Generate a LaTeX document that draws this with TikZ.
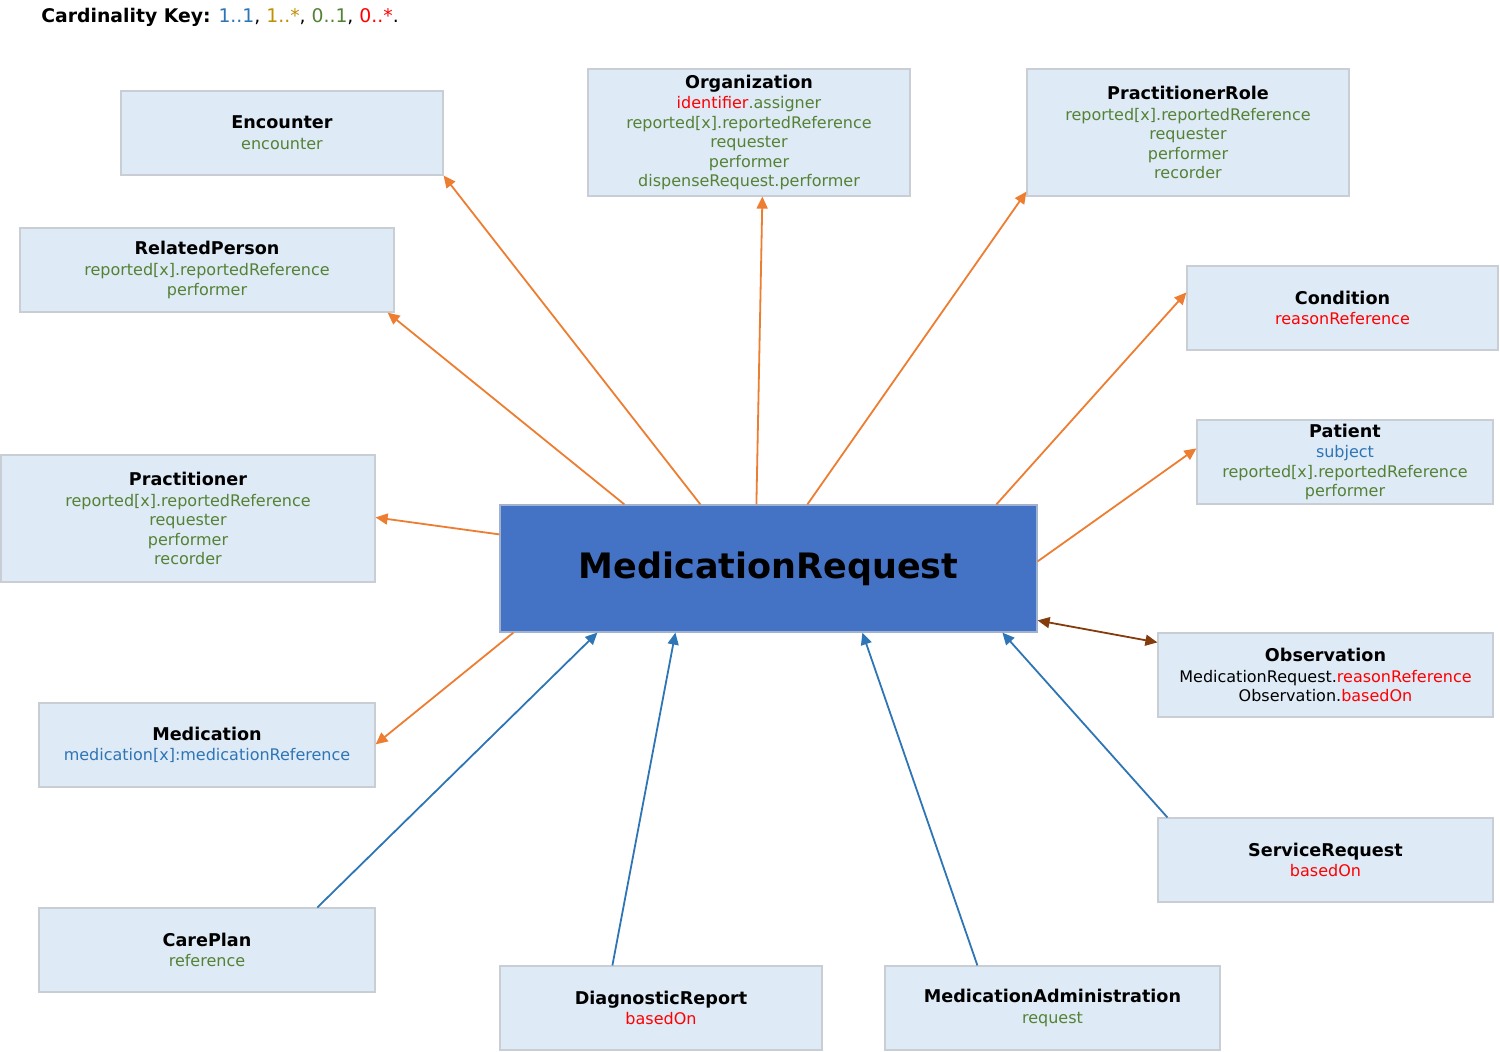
\documentclass[tikz,border=0pt]{standalone}
\usepackage{fontspec}
\setmainfont{DejaVu Sans}
\usetikzlibrary{arrows.meta,calc}
\definecolor{cblue}{HTML}{2E75B6}
\definecolor{cgold}{HTML}{BF9000}
\definecolor{cgreen}{HTML}{548235}
\definecolor{cred}{HTML}{FF0000}
\definecolor{boxfill}{HTML}{DEEAF6}
\definecolor{boxline}{HTML}{C9CED4}
\definecolor{mainfill}{HTML}{4472C4}
\definecolor{corange}{HTML}{ED7D31}
\definecolor{cbrown}{HTML}{843C0C}
\newcommand{\ttl}[1]{{\fontsize{8.8}{10}\selectfont\bfseries #1}\\[0.6pt]}
\tikzset{
  x=0.5pt, y=-0.5pt,
  box/.style={draw=boxline, line width=0.6pt, fill=boxfill, inner sep=0pt, align=center,
    font=\fontsize{8}{9.75}\selectfont, text=cgreen},
  mainbox/.style={draw=boxline!70!mainfill, line width=0.6pt, fill=mainfill, inner sep=0pt,
    font=\fontsize{17.5}{20}\selectfont\bfseries, text=black},
  tip/.style={-{Triangle[length=6pt,width=5.5pt]}},
  oarr/.style={tip, draw=corange, fill=corange, line width=0.9pt},
  barr/.style={tip, draw=cblue, fill=cblue, line width=0.9pt},
  brarr/.style={{Triangle[length=6pt,width=5.5pt]}-{Triangle[length=6pt,width=5.5pt]}, draw=cbrown, fill=cbrown, line width=0.9pt},
}
\begin{document}
\begin{tikzpicture}
\useasboundingbox (0,0) rectangle (1500,1051);

\node[anchor=base west, inner sep=0pt, font=\fontsize{9.4}{11}\selectfont] (key) at (41,22)
  {\textbf{Cardinality Key:} \textcolor{cblue}{1..1}, \textcolor{cgold}{1..*}, \textcolor{cgreen}{0..1}, \textcolor{cred}{0..*}.};

\node[mainbox, minimum width=268.5pt, minimum height=63.5pt] (mr) at (768.5,568.5) {MedicationRequest};

\node[box, minimum width=161pt, minimum height=42pt] (enc) at (282,133)
  {\ttl{\textcolor{black}{Encounter}}encounter};
\node[box, minimum width=161pt, minimum height=63.5pt] (org) at (749,132.5)
  {\ttl{\textcolor{black}{Organization}}\textcolor{cred}{identifier}.assigner\\reported[x].reportedReference\\requester\\performer\\dispenseRequest.performer};
\node[box, minimum width=161pt, minimum height=63.5pt] (prole) at (1188,132.5)
  {\ttl{\textcolor{black}{PractitionerRole}}reported[x].reportedReference\\requester\\performer\\recorder};
\node[box, minimum width=187pt, minimum height=42pt] (rp) at (207,270)
  {\ttl{\textcolor{black}{RelatedPerson}}reported[x].reportedReference\\performer};
\node[box, minimum width=155.5pt, minimum height=42pt] (cond) at (1342.5,308)
  {\ttl{\textcolor{black}{Condition}}\textcolor{cred}{reasonReference}};
\node[box, minimum width=148pt, minimum height=42pt] (pat) at (1345,462)
  {\ttl{\textcolor{black}{Patient}}\textcolor{cblue}{subject}\\reported[x].reportedReference\\performer};
\node[box, minimum width=187pt, minimum height=63.5pt] (prac) at (188,518.5)
  {\ttl{\textcolor{black}{Practitioner}}reported[x].reportedReference\\requester\\performer\\recorder};
\node[box, minimum width=167.5pt, minimum height=42pt] (obs) at (1325.5,675)
  {\ttl{\textcolor{black}{Observation}}\textcolor{black}{MedicationRequest.}\textcolor{cred}{reasonReference}\\\textcolor{black}{Observation.}\textcolor{cred}{basedOn}};
\node[box, minimum width=168pt, minimum height=42pt] (med) at (207,745)
  {\ttl{\textcolor{black}{Medication}}\textcolor{cblue}{medication[x]:medicationReference}};
\node[box, minimum width=167.5pt, minimum height=42pt] (sreq) at (1325.5,860)
  {\ttl{\textcolor{black}{ServiceRequest}}\textcolor{cred}{basedOn}};
\node[box, minimum width=168pt, minimum height=42pt] (care) at (207,950)
  {\ttl{\textcolor{black}{CarePlan}}reference};
\node[box, minimum width=161pt, minimum height=42pt] (diag) at (661,1008)
  {\ttl{\textcolor{black}{DiagnosticReport}}\textcolor{cred}{basedOn}};
\node[box, minimum width=167.5pt, minimum height=42pt] (madm) at (1052.5,1008)
  {\ttl{\textcolor{black}{MedicationAdministration}}request};

% outgoing (orange)
\draw[oarr] ($(mr.north west)+(201,0)$) -- (enc.south east);
\draw[oarr] ($(mr.north west)+(257,0)$) -- ($(org.south west)+(175,0)$);
\draw[oarr] ($(mr.north west)+(308,0)$) -- ($(prole.south west)+(0,-5)$);
\draw[oarr] ($(mr.north west)+(125,0)$) -- ($(rp.south east)+(-7,0)$);
\draw[oarr] ($(mr.north west)+(497,0)$) -- ($(cond.north west)+(0,27)$);
\draw[oarr] ($(mr.north east)+(0,57)$) -- ($(pat.north west)+(0,29)$);
\draw[oarr] ($(mr.north west)+(0,30)$) -- ($(prac.north east)+(0,63)$);
\draw[oarr] ($(mr.south west)+(14,0)$) -- ($(med.north east)+(0,42)$);
% both ways
\draw[brarr] ($(mr.north east)+(0,116)$) -- ($(obs.north west)+(0,10)$);
% incoming (blue)
\draw[barr] ($(care.north west)+(279,0)$) -- ($(mr.south west)+(98,0)$);
\draw[barr] ($(diag.north west)+(113,0)$) -- ($(mr.south west)+(176,0)$);
\draw[barr] ($(madm.north west)+(93,0)$) -- ($(mr.south west)+(363,0)$);
\draw[barr] ($(sreq.north west)+(10,0)$) -- ($(mr.south west)+(503,0)$);
\end{tikzpicture}
\end{document}
